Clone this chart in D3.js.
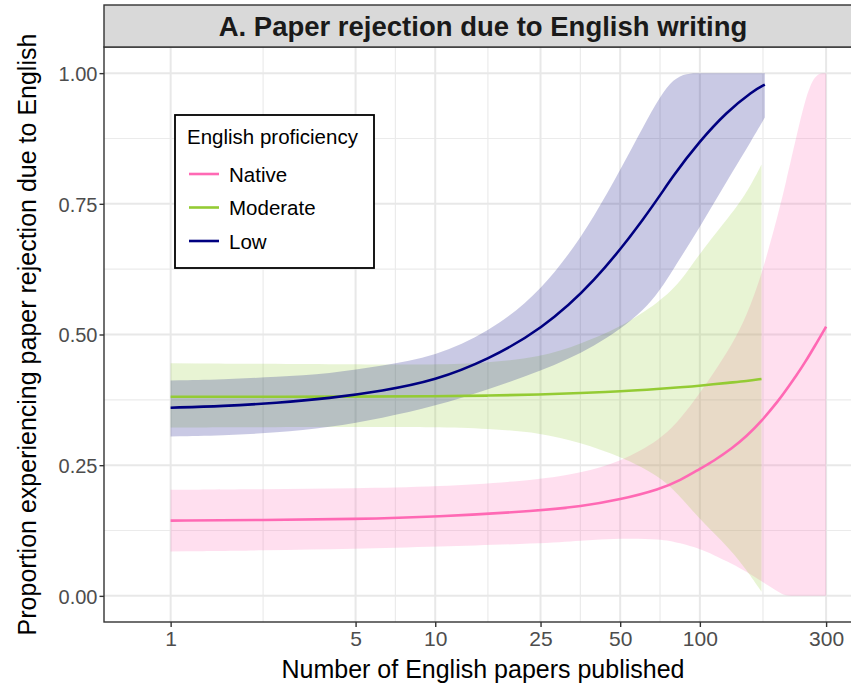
<!DOCTYPE html>
<html>
<head>
<meta charset="utf-8">
<script src="https://cdn.jsdelivr.net/npm/d3@7/dist/d3.min.js"></script>
<style>
  body { margin: 0; background: #fff; }
  svg text { font-family: "Liberation Sans", Arial, sans-serif; }
</style>
</head>
<body>
<div id="chart"></div>
<script>
// values
const groups = ["Native", "Moderate", "Low"];
const groupColors = ["#FF69B4", "#94CB34", "#000080"];

const nativeX    = [1, 2.24, 5, 10, 25, 35.4, 50, 70.7, 84.4, 100, 112, 133, 150, 171, 200, 210, 232, 250, 272, 300];
const nativeFit  = [0.144, 0.145, 0.147, 0.151, 0.163, 0.171, 0.184, 0.204, 0.221, 0.243, 0.257, 0.283, 0.305, 0.334, 0.376, 0.391, 0.422, 0.447, 0.478, 0.515];
const nativeLow  = [0.085, 0.087, 0.090, 0.094, 0.100, 0.106, 0.110, 0.109, 0.101, 0.090, 0.079, 0.061, 0.046, 0.028, 0.006, 0, 0, 0, 0, 0];
const nativeHigh = [0.203, 0.204, 0.206, 0.208, 0.222, 0.235, 0.256, 0.298, 0.338, 0.388, 0.424, 0.482, 0.535, 0.612, 0.740, 0.785, 0.880, 0.950, 1, 1];

const modX    = [1, 5, 10, 15.8, 25, 35.4, 50, 70.7, 84.4, 100, 130, 150, 171];
const modFit  = [0.381, 0.381, 0.382, 0.383, 0.385, 0.388, 0.391, 0.396, 0.399, 0.402, 0.408, 0.411, 0.415];
const modLow  = [0.322, 0.323, 0.323, 0.320, 0.312, 0.293, 0.267, 0.229, 0.190, 0.146, 0.090, 0.050, 0.008];
const modHigh = [0.445, 0.443, 0.442, 0.446, 0.456, 0.482, 0.513, 0.563, 0.600, 0.656, 0.727, 0.770, 0.825];

const lowX    = [1, 1.58, 2.51, 3.98, 6.31, 10, 15.85, 25.1, 39.8, 63.1, 79.4, 100, 125.9, 158.5, 176];
const lowFit  = [0.360, 0.363, 0.369, 0.378, 0.392, 0.412, 0.452, 0.509, 0.598, 0.728, 0.805, 0.870, 0.925, 0.966, 0.978];
const lowLow  = [0.305, 0.307, 0.312, 0.322, 0.340, 0.363, 0.395, 0.430, 0.475, 0.545, 0.625, 0.705, 0.792, 0.875, 0.915];
const lowHigh = [0.412, 0.414, 0.419, 0.425, 0.440, 0.458, 0.504, 0.580, 0.718, 0.912, 1, 1, 1, 1, 1];

const xTicks = [1, 5, 10, 25, 50, 100, 300];
const yTicks = [0, 0.25, 0.5, 0.75, 1];

const series = [
    {x: nativeX, fit: nativeFit, lo: nativeLow, hi: nativeHigh},
    {x: modX, fit: modFit, lo: modLow, hi: modHigh},
    {x: lowX, fit: lowFit, lo: lowLow, hi: lowHigh}
].map((s, i) => ({
    name: groups[i],
    color: groupColors[i],
    values: s.x.map((x, j) => ({x: x, fit: s.fit[j], lo: s.lo[j], hi: s.hi[j]}))
}));

const width = 851, height = 685;
const panel = {left: 104, right: 862, top: 47, bottom: 622};
const stripTop = 5;

const svg = d3.select('#chart')
    .append('svg')
    .attr('width', width)
    .attr('height', height);

const x = d3.scaleLog().domain([0.56, 410]).range([panel.left, panel.right]);
const y = d3.scaleLinear().domain([-0.05, 1.05]).range([panel.bottom, panel.top]);

// minor breaks halfway between majors (in transformed space)
const xMinor = d3.pairs(xTicks).map(([a, b]) => Math.sqrt(a * b));
const yMinor = d3.pairs(yTicks).map(([a, b]) => (a + b) / 2);

const grid = svg.append('g');
grid.selectAll('.xminor').data(xMinor).join('line')
    .attr('x1', d => x(d)).attr('x2', d => x(d))
    .attr('y1', panel.top).attr('y2', panel.bottom)
    .attr('stroke', '#EBEBEB').attr('stroke-width', 1.2);
grid.selectAll('.yminor').data(yMinor).join('line')
    .attr('x1', panel.left).attr('x2', panel.right)
    .attr('y1', d => y(d)).attr('y2', d => y(d))
    .attr('stroke', '#EBEBEB').attr('stroke-width', 1.2);
grid.selectAll('.xmajor').data(xTicks).join('line')
    .attr('x1', d => x(d)).attr('x2', d => x(d))
    .attr('y1', panel.top).attr('y2', panel.bottom)
    .attr('stroke', '#E8E8E8').attr('stroke-width', 2);
grid.selectAll('.ymajor').data(yTicks).join('line')
    .attr('x1', panel.left).attr('x2', panel.right)
    .attr('y1', d => y(d)).attr('y2', d => y(d))
    .attr('stroke', '#E8E8E8').attr('stroke-width', 2);

svg.append('clipPath').attr('id', 'clip')
    .append('rect')
    .attr('x', panel.left).attr('y', panel.top)
    .attr('width', panel.right - panel.left).attr('height', panel.bottom - panel.top);

const plot = svg.append('g').attr('clip-path', 'url(#clip)');

const area = d3.area()
    .x(d => x(d.x))
    .y0(d => y(d.lo))
    .y1(d => y(d.hi))
    .curve(d3.curveBasis);

const line = d3.line()
    .x(d => x(d.x))
    .y(d => y(d.fit))
    .curve(d3.curveBasis);

plot.selectAll('.band').data(series).join('path')
    .attr('d', d => area(d.values))
    .attr('fill', d => d.color)
    .attr('fill-opacity', 0.21);

plot.selectAll('.fit').data(series).join('path')
    .attr('d', d => line(d.values))
    .attr('fill', 'none')
    .attr('stroke', d => d.color)
    .attr('stroke-width', 2.6);

// panel border
svg.append('rect')
    .attr('x', panel.left).attr('y', panel.top)
    .attr('width', panel.right - panel.left).attr('height', panel.bottom - panel.top)
    .attr('fill', 'none').attr('stroke', '#333333').attr('stroke-width', 1.4);

// strip
svg.append('rect')
    .attr('x', panel.left).attr('y', stripTop)
    .attr('width', panel.right - panel.left).attr('height', panel.top - stripTop)
    .attr('fill', '#D9D9D9').attr('stroke', '#333333').attr('stroke-width', 1.4);
svg.append('text')
    .attr('x', (panel.left + panel.right) / 2)
    .attr('y', (stripTop + panel.top) / 2 + 9.5)
    .attr('text-anchor', 'middle')
    .attr('font-size', 27.5)
    .attr('font-weight', 'bold')
    .attr('fill', '#1A1A1A')
    .text('A. Paper rejection due to English writing');

// axes
const xAxis = svg.append('g')
    .attr('transform', `translate(0,${panel.bottom})`)
    .call(d3.axisBottom(x).tickValues(xTicks).tickFormat(d3.format('d')).tickSize(5).tickPadding(4));
const yAxis = svg.append('g')
    .attr('transform', `translate(${panel.left},0)`)
    .call(d3.axisLeft(y).tickValues(yTicks).tickFormat(d3.format('.2f')).tickSize(4.5).tickPadding(2));

[xAxis, yAxis].forEach(g => {
    g.select('.domain').remove();
    g.selectAll('.tick line').attr('stroke', '#333333').attr('stroke-width', 1.4);
    g.selectAll('.tick text')
        .attr('fill', '#4D4D4D')
        .attr('font-size', 21)
        .attr('font-family', '"Liberation Sans", Arial, sans-serif');
});
yAxis.selectAll('.tick text').attr('font-size', 20).attr('dy', '0.36em');

svg.append('text')
    .attr('x', (panel.left + 862) / 2)
    .attr('y', 678)
    .attr('text-anchor', 'middle')
    .attr('font-size', 25)
    .attr('fill', '#000')
    .text('Number of English papers published');

svg.append('text')
    .attr('transform', `translate(36,${(panel.top + panel.bottom) / 2}) rotate(-90)`)
    .attr('text-anchor', 'middle')
    .attr('font-size', 25)
    .attr('fill', '#000')
    .text('Proportion experiencing paper rejection due to English');

// legend
const legend = svg.append('g').attr('transform', 'translate(175,115)');
legend.append('rect')
    .attr('width', 199).attr('height', 153)
    .attr('fill', '#fff').attr('stroke', '#000').attr('stroke-width', 1.8);
legend.append('text')
    .attr('x', 12).attr('y', 29)
    .attr('font-size', 20.5)
    .attr('fill', '#000')
    .text('English proficiency');
const item = legend.selectAll('.item').data(series).join('g')
    .attr('transform', (d, i) => `translate(0,${59 + i * 33.5})`);
item.append('line')
    .attr('x1', 14).attr('x2', 44)
    .attr('stroke', d => d.color).attr('stroke-width', 2.6);
item.append('text')
    .attr('x', 54).attr('y', 7.5)
    .attr('font-size', 20.5)
    .attr('fill', '#000')
    .text(d => d.name);
</script>
</body>
</html>
